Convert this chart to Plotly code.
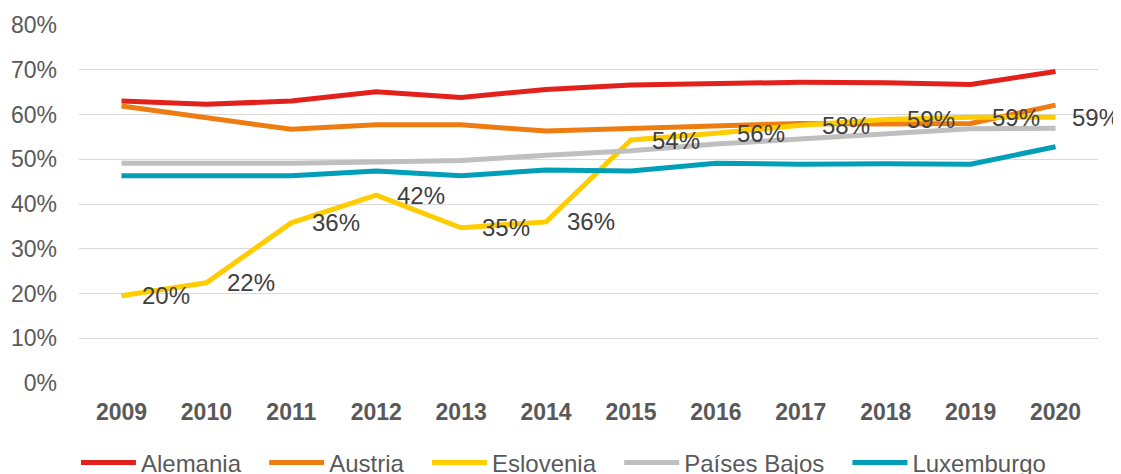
import plotly.graph_objects as go

years = ["2009", "2010", "2011", "2012", "2013", "2014", "2015", "2016", "2017", "2018", "2019", "2020"]
alemania = [0.630, 0.623, 0.630, 0.651, 0.638, 0.656, 0.666, 0.670, 0.672, 0.671, 0.667, 0.696]
austria = [0.619, 0.594, 0.567, 0.577, 0.577, 0.563, 0.569, 0.574, 0.580, 0.579, 0.580, 0.621]
eslovenia = [0.195, 0.224, 0.358, 0.420, 0.347, 0.360, 0.543, 0.558, 0.576, 0.589, 0.594, 0.594]
paises_bajos = [0.491, 0.491, 0.491, 0.494, 0.497, 0.509, 0.519, 0.534, 0.546, 0.558, 0.568, 0.569]
luxemburgo = [0.463, 0.463, 0.463, 0.474, 0.463, 0.476, 0.474, 0.491, 0.489, 0.490, 0.489, 0.528]
y_ticks = [0, 0.1, 0.2, 0.3, 0.4, 0.5, 0.6, 0.7, 0.8]

series = [
    ("Alemania", alemania, "#E3211C"),
    ("Austria", austria, "#EE7D11"),
    ("Eslovenia", eslovenia, "#FFCC00"),
    ("Países Bajos", paises_bajos, "#BFBFBF"),
    ("Luxemburgo", luxemburgo, "#009FB7"),
]

font_family = "Liberation Sans, Arial, sans-serif"
legend_pad = "\u00a0\u00a0\u2009"
fig = go.Figure()
for name, vals, color in series:
    fig.add_trace(go.Scatter(
        x=years, y=vals, name=name + legend_pad, mode="lines",
        line=dict(color=color, width=5),
        hoverinfo="skip",
    ))

annotations = []
for i, v in enumerate(eslovenia):
    annotations.append(dict(
        x=i, y=v, xref="x", yref="y",
        text=f"{round(v * 100):.0f}%",
        showarrow=False, xanchor="left", yanchor="middle",
        xshift=19 if i < len(years) - 1 else 14, yshift=0,
        font=dict(family=font_family, size=24, color="#404040"),
    ))

fig.update_layout(
    width=1130, height=500,
    margin=dict(l=71, r=40, t=17, b=125),
    paper_bgcolor="white", plot_bgcolor="white",
    font=dict(family=font_family, size=24, color="#595959"),
    showlegend=True,
    legend=dict(
        orientation="h", x=-0.003, xanchor="left", y=-0.2235, yanchor="middle",
        font=dict(size=24, color="#595959"),
        traceorder="normal", itemwidth=55,
    ),
    annotations=annotations,
    xaxis=dict(
        type="category", range=[-0.5, len(years) - 0.5],
        showgrid=False, zeroline=False, showline=False,
        tickfont=dict(size=23, color="#595959", family="Liberation Sans, Arial", weight="bold"),
        ticks="", ticklabelstandoff=13, automargin=False,
    ),
    yaxis=dict(
        range=[0, 0.8], tickvals=y_ticks, tickformat=".0%",
        showgrid=True, gridcolor="#D9D9D9", gridwidth=1.3,
        zeroline=False, showline=False, ticks="",
        tickfont=dict(size=23, color="#595959"),
        ticklabelstandoff=21, automargin=False,
    ),
)

fig.write_html("out.html")
